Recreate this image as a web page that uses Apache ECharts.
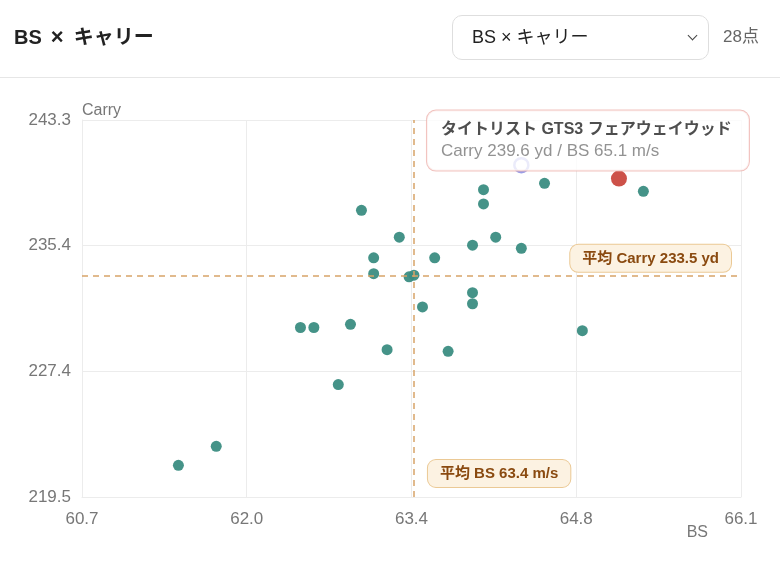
<!DOCTYPE html>
<html>
<head>
<meta charset="utf-8">
<script src="https://cdn.jsdelivr.net/npm/echarts@6/dist/echarts.min.js"></script>
<style>
	html, body { margin: 0; padding: 0; background: #fff; }
	body { width: 780px; height: 563px; position: relative; overflow: hidden;
		font-family: "Liberation Sans", "Noto Sans CJK JP", sans-serif; }
	#chart { position: absolute; left: 0; top: 0; width: 780px; height: 563px; }
	.title { position: absolute; left: 14px; top: 21px; font-size: 20px; font-weight: bold; color: #222; line-height: 32px; }
	.title b { margin: 0 10px 0 9px; font-size: 22px; }
	.sel { position: absolute; left: 452px; top: 15px; width: 255px; height: 43px; border: 1px solid #dedede;
		border-radius: 10px; box-sizing: content-box; }
	.sel span { position: absolute; left: 19px; top: 0; line-height: 43px; font-size: 18px; color: #222; }
	.sel i { position: absolute; right: 12px; top: 16px; width: 6px; height: 6px; border-right: 1.5px solid #444;
		border-bottom: 1.5px solid #444; transform: rotate(45deg); }
	.cnt { position: absolute; left: 723px; top: 21px; line-height: 32px; font-size: 17px; color: #666; }
	.sep { position: absolute; left: 0; top: 77px; width: 780px; height: 1px; background: #e6e6e6; }
</style>
</head>
<body>
<div id="chart"></div>
<div class="title">BS<b>×</b>キャリー</div>
<div class="sel"><span>BS × キャリー</span><i></i></div>
<div class="cnt">28点</div>
<div class="sep"></div>
<script>
// BS(m/s) と キャリー(yd)
var bsList = [61.49, 61.80, 62.49, 62.60, 62.80, 62.90, 62.99, 63.09, 63.09, 63.20,
	63.30, 63.38, 63.42, 63.49, 63.59, 63.70, 63.90, 63.90, 63.90, 63.99,
	63.99, 64.09, 64.30, 64.49, 64.80, 65.30];
var carryList = [221.5, 222.7, 230.2, 230.2, 226.6, 230.4, 237.6, 234.6, 233.6, 228.8,
	235.9, 233.4, 233.5, 231.5, 234.6, 228.7, 235.4, 232.4, 231.7, 238.9,
	238.0, 235.9, 235.2, 239.3, 230.0, 238.8];
// 選択中（ホバー）
var hoverPoint = [64.30, 240.45];
// 強調クラブ
var pickName = 'タイトリスト GTS3 フェアウェイウッド';
var pickPoint = [65.1, 239.6];
// 平均
var meanBs = 63.42;
var meanCarry = 233.46;
// 軸
var xMin = 60.7, xMax = 66.1;
var yMin = 219.5, yMax = 243.3;
var xTickLabels = ['60.7', '62.0', '63.4', '64.8', '66.1'];
var yTickLabels = ['219.5', '227.4', '235.4', '243.3'];

var FONT = '"Liberation Sans", "Noto Sans CJK JP", sans-serif';

var pts = [];
for (var i = 0; i < bsList.length; i++) {
	pts.push([bsList[i], carryList[i]]);
}

//小数1桁
function fmt1(v) {
	return (Math.round(v * 10 + 1e-6) / 10).toFixed(1);
}

var labelBox = {
	color: '#8a4a10',
	fontWeight: 'bold',
	fontSize: 15,
	lineHeight: 17,
	fontFamily: FONT,
	backgroundColor: '#fcf2e2',
	borderColor: '#ebc995',
	borderWidth: 1,
	borderRadius: 8,
	padding: [5, 12]
};

var myChart = echarts.init(document.getElementById('chart'));
var option = {
	animation: false,
	textStyle: { fontFamily: FONT },
	grid: { left: 82, right: 39, top: 120, bottom: 66, containLabel: false },
	xAxis: {
		type: 'value',
		min: xMin,
		max: xMax,
		interval: (xMax - xMin) / 4,
		name: 'BS',
		nameLocation: 'end',
		nameGap: -33,
		nameTextStyle: { color: '#777', fontSize: 16, align: 'right', verticalAlign: 'top', padding: [28, 0, 0, 0] },
		axisLine: { show: true, lineStyle: { color: '#ececec' } },
		axisTick: { show: false },
		splitLine: { show: true, lineStyle: { color: '#ececec' } },
		axisLabel: {
			color: '#777', fontSize: 17, margin: 14,
			formatter: function(v, idx) { return xTickLabels[idx] || fmt1(v); }
		}
	},
	yAxis: {
		type: 'value',
		min: yMin,
		max: yMax,
		interval: (yMax - yMin) / 3,
		name: 'Carry',
		nameLocation: 'end',
		nameGap: 1,
		nameTextStyle: { color: '#777', fontSize: 16, align: 'left', verticalAlign: 'bottom' },
		axisLine: { show: true, lineStyle: { color: '#ececec' } },
		axisTick: { show: false },
		splitLine: { show: true, lineStyle: { color: '#ececec' } },
		axisLabel: {
			color: '#777', fontSize: 17, margin: 11,
			formatter: function(v, idx) { return yTickLabels[idx] || fmt1(v); }
		}
	},
	series: [{
		type: 'scatter',
		symbolSize: 11,
		itemStyle: { color: '#3b8d82', opacity: 0.95 },
		data: pts,
		markLine: {
			silent: true,
			symbol: 'none',
			lineStyle: { color: '#d7a468', type: [6, 5], width: 1.5 },
			label: { show: false },
			data: [{ xAxis: meanBs }, { yAxis: meanCarry }]
		},
		markPoint: {
			silent: true,
			symbol: 'circle',
			symbolSize: 0,
			data: [{
				coord: [meanBs, yMin],
				label: Object.assign({
					show: true,
					position: [14, -37],
					align: 'left',
					verticalAlign: 'top',
					formatter: '平均 BS ' + fmt1(meanBs) + ' m/s'
				}, labelBox)
			}, {
				coord: [xMax, meanCarry],
				label: Object.assign({
					show: true,
					position: [-10, -31],
					align: 'right',
					verticalAlign: 'top',
					formatter: '平均 Carry ' + fmt1(meanCarry) + ' yd'
				}, labelBox)
			}]
		}
	}, {
		type: 'scatter',
		symbolSize: 14,
		itemStyle: { color: '#fff', borderColor: '#8185e0', borderWidth: 2.5 },
		data: [hoverPoint]
	}, {
		type: 'scatter',
		z: 10,
		symbolSize: 16,
		itemStyle: { color: '#c1261b' },
		data: [pickPoint],
		label: {
			show: true,
			position: [-184, -60],
			align: 'left',
			verticalAlign: 'top',
			width: 294,
			backgroundColor: '#fff',
			borderColor: '#eeb3ae',
			borderWidth: 1,
			borderRadius: 9,
			padding: [8, 14, 8, 14],
			formatter: function(p) {
				return '{t|' + pickName + '}\n{s|Carry ' + fmt1(p.value[1]) + ' yd / BS ' + fmt1(p.value[0]) + ' m/s}';
			},
			rich: {
				t: { fontSize: 16, fontWeight: 'bold', color: '#222', lineHeight: 22, fontFamily: FONT },
				s: { fontSize: 17, color: '#777', lineHeight: 22, fontFamily: FONT }
			}
		}
	}]
};
myChart.setOption(option);
</script>
</body>
</html>
